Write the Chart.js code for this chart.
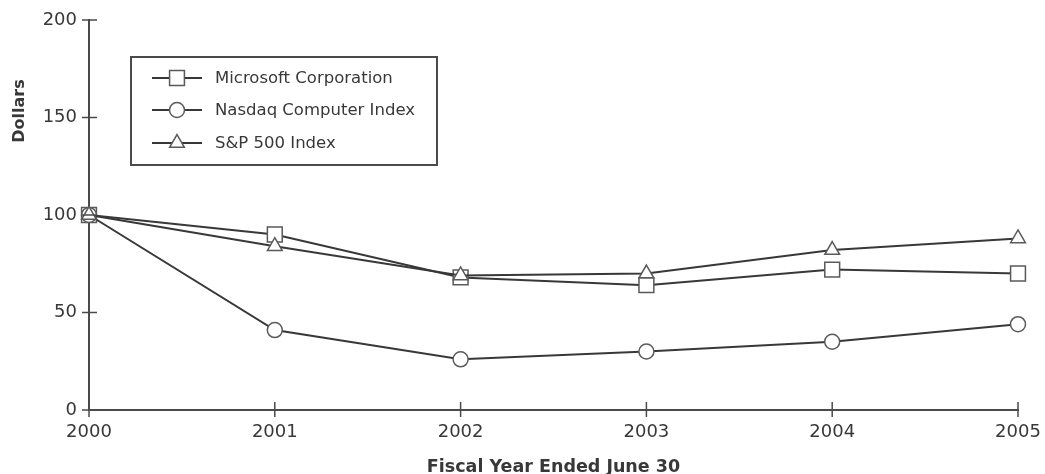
<!DOCTYPE html>
<html>
<head>
<meta charset="utf-8">
<script src="https://cdn.jsdelivr.net/npm/chart.js@4/dist/chart.umd.min.js"></script>
<style>
html,body{margin:0;padding:0;background:#fff;}
#wrap{width:1045px;height:474px;position:relative;}
</style>
</head>
<body>
<div id="wrap"><canvas id="c" width="1045" height="474"></canvas></div>
<script>
const years = ['2000','2001','2002','2003','2004','2005'];
const microsoft = [100, 90, 68, 64, 72, 70];
const nasdaq = [100, 41, 26, 30, 35, 44];
const sp500 = [100, 84, 69, 70, 82, 88];
const seriesNames = ['Microsoft Corporation', 'Nasdaq Computer Index', 'S&P 500 Index'];
const yTicks = [0, 50, 100, 150, 200];
const yTitle = 'Dollars';
const xTitle = 'Fiscal Year Ended June 30';

const INK = '#383838';
const AXIS = '#4a4a4a';
const MARK = '#5a5a5a';
const FONT = "'DejaVu Sans', Verdana, sans-serif";

function ds(label, data, style, r, order) {
  return {
    label, data, order,
    borderColor: INK, borderWidth: 2,
    pointStyle: style, pointRadius: r,
    pointBackgroundColor: '#fff', pointBorderColor: MARK, pointBorderWidth: 1.5,
    tension: 0, fill: false
  };
}

const decor = {
  id: 'decor',
  afterDraw(chart) {
    const ctx = chart.ctx;
    const xs = chart.scales.x, ys = chart.scales.y;
    const a = chart.chartArea;
    ctx.save();
    // tick marks crossing the axes
    ctx.strokeStyle = AXIS; ctx.lineWidth = 1.5;
    ys.ticks.forEach(t => {
      const y = ys.getPixelForValue(t.value);
      ctx.beginPath(); ctx.moveTo(a.left - 7, y); ctx.lineTo(t.value === 0 ? a.left : a.left + 8, y); ctx.stroke();
    });
    xs.ticks.forEach((t, i) => {
      const x = xs.getPixelForTick(i);
      ctx.beginPath(); ctx.moveTo(x, i === 0 ? a.bottom : a.bottom - 8); ctx.lineTo(x, a.bottom + 7); ctx.stroke();
    });
    // y axis title
    ctx.save();
    ctx.translate(20, 111);
    ctx.rotate(-Math.PI / 2);
    ctx.fillStyle = INK; ctx.font = 'bold 16px ' + FONT;
    ctx.textAlign = 'center'; ctx.textBaseline = 'middle';
    ctx.fillText(yTitle, 0, 0);
    ctx.restore();
    // legend box
    ctx.strokeStyle = AXIS; ctx.lineWidth = 2;
    ctx.strokeRect(131, 57, 306, 108);
    const rows = [78, 110, 143];
    chart.data.datasets.forEach((d, i) => {
      const y = rows[i];
      ctx.strokeStyle = INK; ctx.lineWidth = 2;
      ctx.beginPath(); ctx.moveTo(152, y); ctx.lineTo(202, y); ctx.stroke();
      ctx.fillStyle = '#fff'; ctx.strokeStyle = MARK; ctx.lineWidth = 1.5;
      Chart.helpers.drawPoint(ctx, { pointStyle: d.pointStyle, radius: d.pointRadius, borderWidth: 1.5 }, 177, y);
      ctx.fillStyle = INK; ctx.font = '16.5px ' + FONT; ctx.textBaseline = 'middle'; ctx.textAlign = 'left';
      ctx.fillText(d.label, 215, y + 1);
    });
    ctx.restore();
  }
};

new Chart(document.getElementById('c'), {
  type: 'line',
  data: {
    labels: years,
    datasets: [
      ds(seriesNames[0], microsoft, 'rect', 10.5, 3),
      ds(seriesNames[1], nasdaq, 'circle', 7.5, 2),
      ds(seriesNames[2], sp500, 'triangle', 8.5, 1)
    ]
  },
  options: {
    responsive: false,
    animation: false,
    layout: { padding: { top: 20, right: 27, left: 0, bottom: 0 } },
    plugins: { legend: { display: false }, tooltip: { enabled: false } },
    scales: {
      x: {
        offset: false,
        grid: { drawOnChartArea: false, drawTicks: false },
        border: { color: AXIS, width: 2 },
        ticks: { color: INK, font: { family: FONT, size: 18 }, padding: 12, maxRotation: 0, autoSkip: false },
        title: { display: true, text: xTitle, color: INK, font: { family: FONT, size: 17.5, weight: 'bold', lineHeight: 0.8 }, padding: { top: 0, bottom: 0 } },
        afterFit(s) { s.height = 64; s.paddingLeft = 0; s.paddingRight = 0; }
      },
      y: {
        min: 0, max: 200,
        afterBuildTicks(s) { s.ticks = yTicks.map(v => ({ value: v })); },
        grid: { drawOnChartArea: false, drawTicks: false },
        border: { color: AXIS, width: 2 },
        ticks: { color: INK, font: { family: FONT, size: 18 }, padding: 12 },
        afterFit(s) { s.width = 89; s.paddingTop = 0; s.paddingBottom = 0; }
      }
    }
  },
  plugins: [decor]
});
</script>
</body>
</html>
